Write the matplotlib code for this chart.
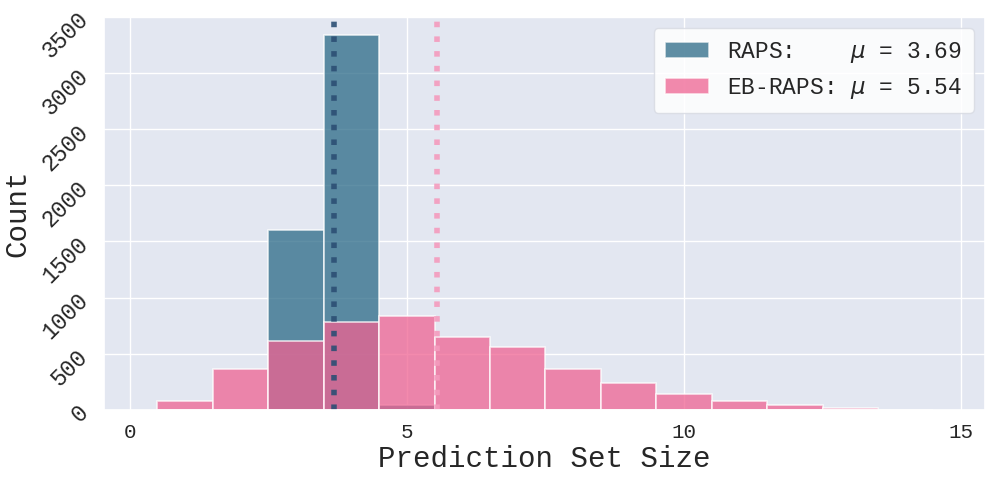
import numpy as np
import matplotlib
matplotlib.use("Agg")
import matplotlib.pyplot as plt
import seaborn as sns

# set sizes (discrete bins, width 1)
sizes = np.arange(1, 15)
raps_counts = [0, 0, 1600, 3340, 40, 0, 0, 0, 0, 0, 0, 0, 0, 0]
ebraps_counts = [78, 360, 617, 780, 840, 647, 558, 361, 238, 140, 78, 43, 20, 3]
raps_mean = 3.69
ebraps_mean = 5.54

sns.set_theme(style="darkgrid", rc={"axes.facecolor": "#e3e7f1"})
plt.rcParams['font.family'] = ['Liberation Mono', 'DejaVu Sans Mono']
plt.rcParams['mathtext.fontset'] = 'dejavusans'

blue = "#2b6a87"
pink = "#ef6392"

fig = plt.figure(figsize=(9.97, 4.8), dpi=100)
ax = fig.add_axes([0.104, 0.146, 0.884, 0.819])

ax.bar(sizes, raps_counts, width=1.0, color=blue, alpha=0.75,
       edgecolor="white", linewidth=1.2,
       label=r"RAPS:    $\mu$ = %.2f" % raps_mean)
ax.bar(sizes, ebraps_counts, width=1.0, color=pink, alpha=0.75,
       edgecolor="white", linewidth=1.2,
       label=r"EB-RAPS: $\mu$ = %.2f" % ebraps_mean)

# mean markers
ax.axvline(raps_mean, color="#2c4f74", linestyle=":", linewidth=4, alpha=0.9)
ax.axvline(ebraps_mean, color="#f49bbd", linestyle=":", linewidth=4, alpha=0.9)

ax.set_xlim(-0.47, 15.43)
ax.set_ylim(0, 3500)
ax.set_xticks([0, 5, 10, 15])
ax.set_yticks(np.arange(0, 3501, 500))
ax.tick_params(axis='x', labelsize=15)
ax.tick_params(axis='y', labelsize=16.5, labelrotation=45, pad=2)

ax.set_xlabel("Prediction Set Size", fontsize=21, labelpad=2)
ax.set_ylabel("Count", fontsize=21)

leg = ax.legend(loc="upper right", fontsize=16.5, handlelength=1.9,
                facecolor="white", framealpha=0.85, borderpad=0.5)
leg.get_frame().set_edgecolor("#d8dbe3")

fig.savefig("out.png", dpi=100)
